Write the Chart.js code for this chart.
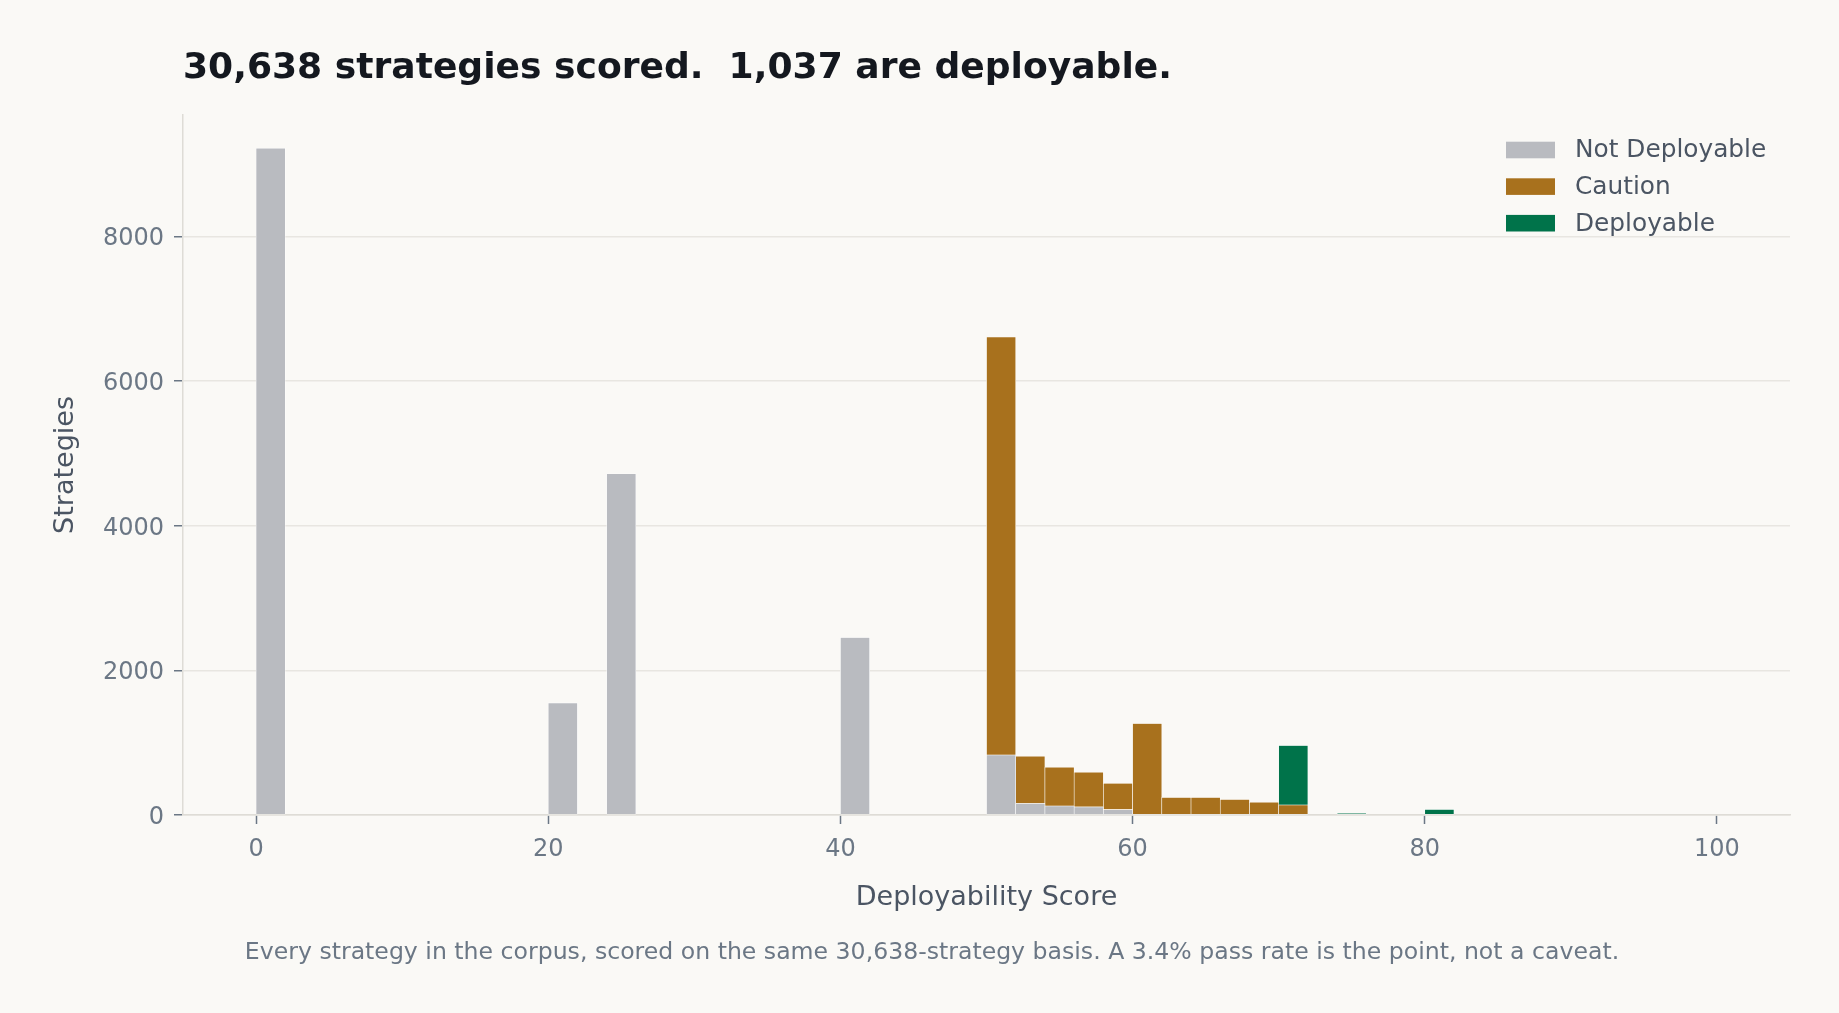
<!DOCTYPE html>
<html>
<head>
<meta charset="utf-8">
<script src="https://cdn.jsdelivr.net/npm/chart.js@4.4.1/dist/chart.umd.min.js"></script>
<style>
  html, body { margin: 0; padding: 0; background: #faf9f6; }
  #wrap { width: 1839px; height: 1013px; position: relative; }
</style>
</head>
<body>
<div id="wrap"><canvas id="grafico" width="1839" height="1013"></canvas></div>
<script>
const titulo = "30,638 strategies scored.  1,037 are deployable.";
const rodape = "Every strategy in the corpus, scored on the same 30,638-strategy basis. A 3.4% pass rate is the point, not a caveat.";

// histogram bins (start of each 2-point bin that has strategies)
const binStarts     = [0,    20,   24,   40,   50,   52,  54,  56,  58,  60,   62,  64,  66,  68,  70,  74, 80];
const notDeployable = [9220, 1550, 4720, 2455, 830,  158, 125, 112, 74,  0,    0,   0,   0,   0,   0,   0,  0];
const caution       = [0,    0,    0,    0,    5780, 654, 534, 478, 364, 1265, 244, 244, 216, 175, 138, 0,  0];
const deployable    = [0,    0,    0,    0,    0,    0,   0,   0,   0,   0,    0,   0,   0,   0,   822, 25, 78];
const binWidth = 2;

const xTicks = [0, 20, 40, 60, 80, 100];
const yTicks = [0, 2000, 4000, 6000, 8000];

const corTexto = "#6b7785";
const corEixo = "#4b5563";

function serie(valores) {
  return binStarts.map((b, i) => ({ x: b + binWidth / 2, y: valores[i] === 0 ? null : valores[i] }));
}

function conjunto(label, valores, cor) {
  return {
    label,
    data: serie(valores),
    backgroundColor: cor,
    borderColor: "#ffffff",
    borderWidth: 0.6,
    borderSkipped: false,
    barPercentage: 1,
    categoryPercentage: 1
  };
}

const textosPlugin = {
  id: "textos",
  afterDraw(chart) {
    const { ctx, chartArea } = chart;
    ctx.save();
    ctx.font = 'bold 36.1px "DejaVu Sans"';
    ctx.fillStyle = "#14181f";
    ctx.textAlign = "left";
    ctx.textBaseline = "alphabetic";
    ctx.fillText(titulo, chartArea.left, 78);

    ctx.font = '23.6px "DejaVu Sans"';
    ctx.fillStyle = corTexto;
    ctx.textAlign = "center";
    ctx.fillText(rodape, 932, 959);

    chart.data.datasets.forEach((ds, i) => {
      const y = chartArea.top + 35 + i * 36.6;
      const x = chartArea.right - 284;
      ctx.fillStyle = ds.backgroundColor;
      ctx.fillRect(x, y - 8.3, 49, 16.6);
      ctx.fillStyle = corEixo;
      ctx.font = '24.8px "DejaVu Sans"';
      ctx.textAlign = "left";
      ctx.textBaseline = "middle";
      ctx.fillText(ds.label, x + 69, y + 1);
    });
    ctx.restore();
  }
};

Chart.defaults.font.family = '"DejaVu Sans"';

new Chart(document.getElementById("grafico"), {
  type: "bar",
  data: {
    datasets: [
      conjunto("Not Deployable", notDeployable, "#b9bbc0"),
      conjunto("Caution", caution, "#a8711d"),
      conjunto("Deployable", deployable, "#00734a")
    ]
  },
  options: {
    responsive: false,
    animation: false,
    devicePixelRatio: 1,
    layout: { padding: { top: 115, right: 49, left: 0, bottom: 0 } },
    plugins: { legend: { display: false }, tooltip: { enabled: false } },
    scales: {
      x: {
        type: "linear",
        min: -5,
        max: 105,
        stacked: true,
        offset: false,
        afterBuildTicks: s => { s.ticks = xTicks.map(v => ({ value: v })); },
        afterFit: s => { s.height = 198; },
        grid: { offset: false, drawOnChartArea: false, drawTicks: true, tickLength: 9, tickWidth: 1.5, tickColor: corTexto },
        border: { color: "#dedcd6", width: 1.5 },
        ticks: { color: corTexto, font: { size: 24 }, padding: 11, maxRotation: 0, callback: v => String(v) },
        title: { display: true, text: "Deployability Score", color: corEixo, font: { size: 27 }, padding: { top: 0, bottom: 99 } }
      },
      y: {
        min: 0,
        max: 9681,
        stacked: true,
        afterBuildTicks: s => { s.ticks = yTicks.map(v => ({ value: v })); },
        afterFit: s => { s.width = 183; },
        grid: { color: "#e8e6e1", lineWidth: 1.5, drawTicks: true, tickLength: 9, tickWidth: 1.5, tickColor: corTexto },
        border: { color: "#dedcd6", width: 1.5 },
        ticks: { color: corTexto, font: { size: 24 }, padding: 10, labelOffset: 2.5, callback: v => String(v) },
        title: { display: true, text: "Strategies", color: corEixo, font: { size: 27 }, padding: { top: 50, bottom: 0 } }
      }
    }
  },
  plugins: [textosPlugin]
});
</script>
</body>
</html>
